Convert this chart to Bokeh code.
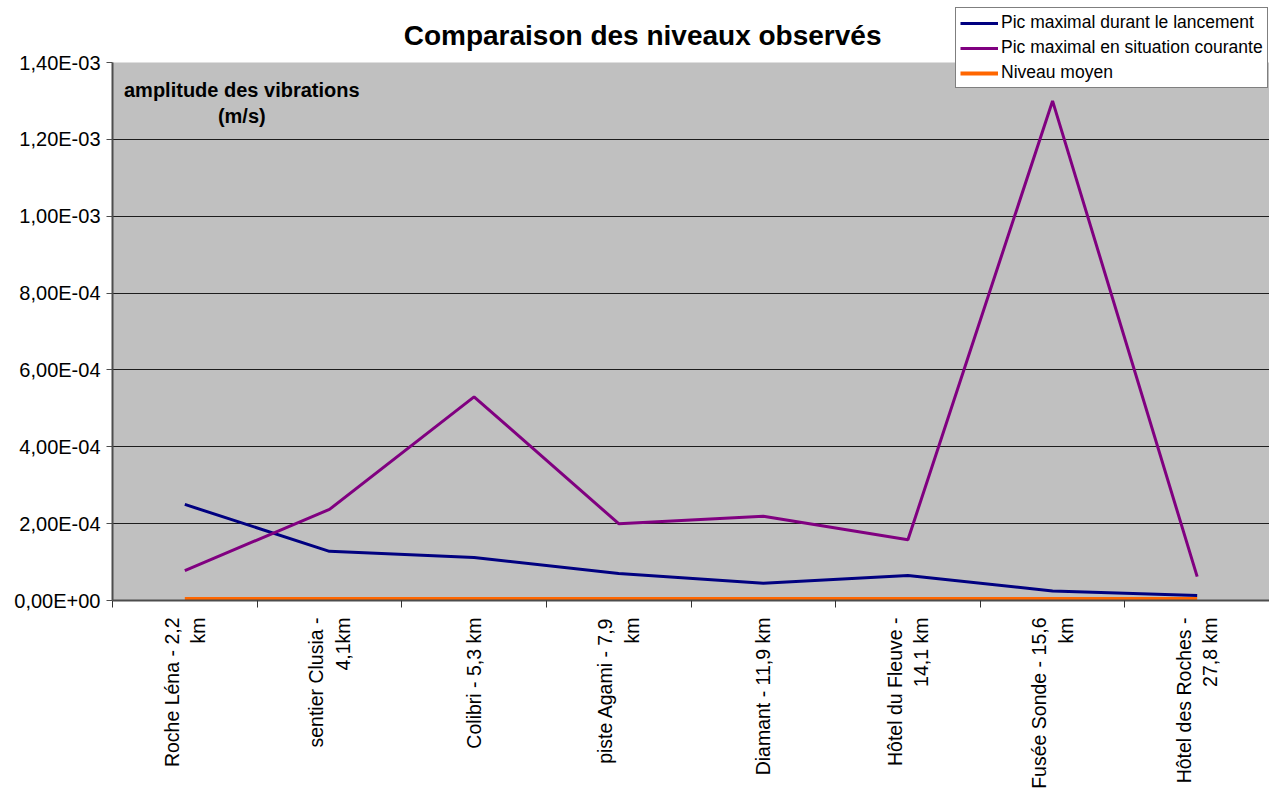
import math
from bokeh.plotting import figure
from bokeh.models import (Range1d, LinearAxis, FixedTicker, CustomJSTickFormatter,
                          Legend, LegendItem, Label, ColumnDataSource, BoxAnnotation)
from bokeh.embed import file_html
from bokeh.resources import INLINE

# ---- data ----
categories = ["Roche Léna - 2,2\nkm", "sentier Clusia -\n4,1km", "Colibri - 5,3 km",
              "piste Agami - 7,9\nkm", "Diamant - 11,9 km", "Hôtel du Fleuve -\n14,1 km",
              "Fusée Sonde - 15,6\nkm", "Hôtel des Roches -\n27,8 km"]
pic_lancement = [2.5e-4, 1.28e-4, 1.12e-4, 0.70e-4, 0.45e-4, 0.65e-4, 0.25e-4, 0.13e-4]
pic_courant = [0.78e-4, 2.37e-4, 5.30e-4, 2.0e-4, 2.19e-4, 1.58e-4, 1.30e-3, 0.62e-4]
niveau_moyen = [4e-6, 4e-6, 4e-6, 4e-6, 4e-6, 4e-6, 4e-6, 4e-6]
series_names = ["Pic maximal durant le lancement", "Pic maximal en situation courante", "Niveau moyen"]
y_ticks = [0.0, 2e-4, 4e-4, 6e-4, 8e-4, 1.0e-3, 1.2e-3, 1.4e-3]
y_tick_labels = ["0,00E+00", "2,00E-04", "4,00E-04", "6,00E-04", "8,00E-04",
                 "1,00E-03", "1,20E-03", "1,40E-03"]
title_text = "Comparaison des niveaux observés"
unit_lines = ["amplitude des vibrations", "(m/s)"]

FONT = "Liberation Sans"
n = len(categories)
Y_MAX = y_ticks[-1]
# frame spans the full top of the chart (legend/title sit above the grey plot area)
Y_TOP = Y_MAX * 600 / 538

src = ColumnDataSource(dict(pos=[i + 0.5 for i in range(n)], cat=categories,
                            a=pic_lancement, b=pic_courant, c=niveau_moyen))

p = figure(width=1269, height=792, output_backend="svg", toolbar_location=None,
           x_range=Range1d(0, n), y_range=Range1d(0, Y_TOP),
           x_axis_location=None, y_axis_location=None,
           min_border_left=112, min_border_top=0, min_border_bottom=192, min_border_right=0)
p.background_fill_color = "white"
p.border_fill_color = "white"
p.outline_line_color = None

# grey plot area
p.add_layout(BoxAnnotation(bottom=0, top=Y_MAX, fill_color="#C0C0C0", fill_alpha=1,
                           line_color=None, level="image"))

# y axis
yaxis = LinearAxis(ticker=FixedTicker(ticks=y_ticks, minor_ticks=[]),
                   major_label_overrides={t: l for t, l in zip(y_ticks, y_tick_labels)},
                   bounds=(0, Y_MAX))
yaxis.major_label_text_font = FONT
yaxis.major_label_text_font_size = "20px"
yaxis.major_label_text_color = "black"
yaxis.major_tick_in = 0
yaxis.major_tick_out = 6
yaxis.major_label_standoff = 6
yaxis.axis_line_color = "#4d4d4d"
yaxis.axis_line_width = 2
yaxis.major_tick_line_color = "#4d4d4d"
p.add_layout(yaxis, "left")

# x axis (labels at category centres, tick marks between categories)
xaxis = LinearAxis(ticker=FixedTicker(ticks=[i + 0.5 for i in range(n)],
                                      minor_ticks=[i for i in range(n + 1)]),
                   formatter=CustomJSTickFormatter(args=dict(labels=categories),
                                                   code="return labels[Math.floor(tick)];"))
xaxis.major_label_orientation = math.pi / 2
xaxis.major_label_text_font = FONT
xaxis.major_label_text_font_size = "19.5px"
xaxis.major_label_text_color = "black"
xaxis.major_tick_in = 0
xaxis.major_tick_out = 0
xaxis.minor_tick_in = 0
xaxis.minor_tick_out = 7
xaxis.minor_tick_line_color = "#333333"
xaxis.minor_tick_line_width = 1
xaxis.major_label_standoff = 10
xaxis.axis_label_standoff = 0
xaxis.axis_line_color = "#4d4d4d"
xaxis.axis_line_width = 2
p.add_layout(xaxis, "below")

# grid
p.xgrid.visible = False
p.ygrid.ticker = FixedTicker(ticks=y_ticks[:-1])
p.ygrid.grid_line_color = "black"
p.ygrid.grid_line_width = 1
p.ygrid.grid_line_alpha = 0.85

# series
r1 = p.line("pos", "a", source=src, line_color="#000080", line_width=3)
r2 = p.line("pos", "b", source=src, line_color="#800080", line_width=3)
r3 = p.line("pos", "c", source=src, line_color="#FF6600", line_width=4)

legend = Legend(items=[LegendItem(label=series_names[0], renderers=[r1]),
                       LegendItem(label=series_names[1], renderers=[r2]),
                       LegendItem(label=series_names[2], renderers=[r3])],
                location=(843, 512))
legend.label_text_font = FONT
legend.label_text_font_size = "17.5px"
legend.label_text_color = "black"
legend.glyph_width = 38
legend.glyph_height = 20
legend.label_height = 20
legend.label_standoff = 3
legend.spacing = 4
legend.padding = 4
legend.margin = 0
legend.border_line_color = "black"
legend.border_line_width = 1
legend.background_fill_color = "white"
legend.background_fill_alpha = 1
p.add_layout(legend, "center")

# title
p.add_layout(Label(x=(642 - 112) / 144.6, y=Y_MAX * (600 - 35) / 538, text=title_text,
                   text_align="center", text_baseline="middle", text_font=FONT,
                   text_font_size="28px", text_font_style="bold", text_color="black"))

# unit annotation
for txt, yv in zip(unit_lines, [1.3297e-3, 1.2595e-3]):
    p.add_layout(Label(x=0.894, y=yv, text=txt, text_align="center", text_baseline="middle",
                       text_font=FONT, text_font_size="20px", text_font_style="bold",
                       text_color="black"))

open("out.html", "w").write(file_html(p, INLINE))
